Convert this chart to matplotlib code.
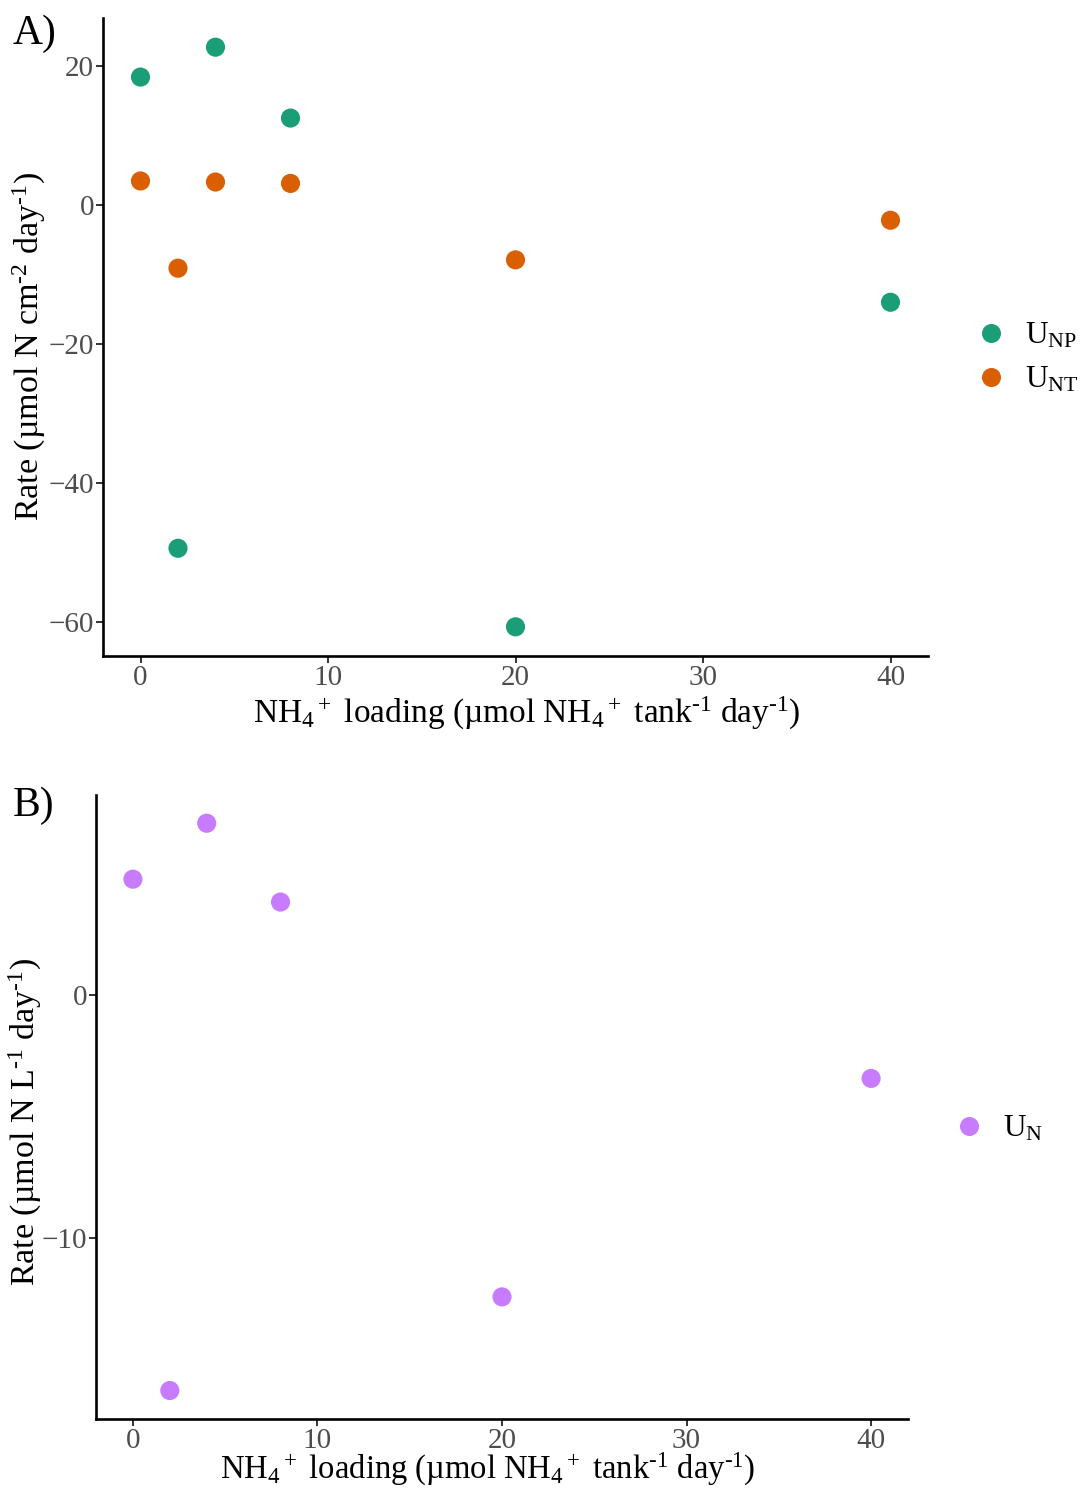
import matplotlib
matplotlib.use("Agg")
import matplotlib.pyplot as plt
from matplotlib.lines import Line2D

plt.rcParams['font.family'] = ['Liberation Serif', 'DejaVu Serif']
plt.rcParams['mathtext.fontset'] = 'custom'
plt.rcParams['mathtext.rm'] = 'Liberation Serif'
plt.rcParams['mathtext.it'] = 'Liberation Serif'
plt.rcParams['mathtext.bf'] = 'Liberation Serif'
plt.rcParams['mathtext.default'] = 'regular'

# ---- data ----
loading = [0, 2, 4, 8, 20, 40]
u_np = [18.4, -49.4, 22.7, 12.5, -60.7, -14.0]
u_nt = [3.45, -9.1, 3.3, 3.1, -7.9, -2.2]
u_n = [4.75, -16.27, 7.05, 3.81, -12.42, -3.44]

xticks = [0, 10, 20, 30, 40]
yticks_a = [-60, -40, -20, 0, 20]
yticks_b = [-10, 0]

col_np = '#1B9E77'
col_nt = '#D95F02'
col_n = '#C77CFF'

W, H = 1082, 1492
fig = plt.figure(figsize=(W / 100, H / 100), dpi=100)

def frac(l, t, r, b):
    return [l / W, 1 - b / H, (r - l) / W, (b - t) / H]

axA = fig.add_axes(frac(103, 18, 928, 656))
axB = fig.add_axes(frac(96, 795, 908, 1419))

xlabel = r"NH$_4{}^+$ loading (µmol NH$_4{}^+$ tank$^{\text{-}1}$ day$^{\text{-}1}$)"

def style(ax):
    for s in ['top', 'right']:
        ax.spines[s].set_visible(False)
    for s in ['left', 'bottom']:
        ax.spines[s].set_linewidth(1.9)
        ax.spines[s].set_color('black')
    ax.tick_params(axis='both', length=5, width=1.4, color='#333333',
                   labelcolor='#4D4D4D', labelsize=21, pad=1.5)
    ax.set_xticks(xticks)
    ax.set_xlim(-2, 42)

MS = 190
axA.scatter(loading, u_np, s=MS, color=col_np, edgecolors='none', zorder=3)
axA.scatter(loading, u_nt, s=MS, color=col_nt, edgecolors='none', zorder=3)
style(axA)
axA.set_yticks(yticks_a)
axA.set_yticklabels(['\u221260', '\u221240', '\u221220', '0', '20'])
axA.set_ylim(-64.9, 26.9)
axA.set_xlabel(xlabel, fontsize=24, labelpad=2.5)
axA.xaxis.label.set_x((527 - 103) / 825)
axA.set_ylabel(r"Rate (µmol N cm$^{\text{-}2}$ day$^{\text{-}1}$)", fontsize=24.5)
axA.yaxis.set_label_coords(-0.0665, (656 - 347) / (656 - 18))

axB.scatter(loading, u_n, s=MS, color=col_n, edgecolors='none', zorder=3)
style(axB)
axB.set_yticks(yticks_b)
axB.set_yticklabels(['\u221210', '0'])
axB.set_ylim(-17.44, 8.21)
axB.set_xlabel(xlabel, fontsize=23.5, labelpad=-2)
axB.xaxis.label.set_x((488 - 96) / 812)
axB.set_ylabel(r"Rate (µmol N L$^{\text{-}1}$ day$^{\text{-}1}$)", fontsize=24.5)
axB.yaxis.set_label_coords(-0.0635, (1419 - 1122) / (1419 - 795))

def mk(c):
    return Line2D([], [], linestyle='none', marker='o', markersize=13.7,
                  markerfacecolor=c, markeredgecolor='none')

legA = fig.legend([mk(col_np), mk(col_nt)], [r"U$_{NP}$", r"U$_{NT}$"],
                  loc='center left', bbox_to_anchor=(975 / W, 1 - 358 / H),
                  frameon=False, fontsize=22.5, handlelength=1.0,
                  handletextpad=0.6, labelspacing=0.45, borderpad=0,
                  borderaxespad=0)
legB = fig.legend([mk(col_n)], [r"U$_{N}$"],
                  loc='center left', bbox_to_anchor=(953 / W, 1 - 1129 / H),
                  frameon=False, fontsize=22.5, handlelength=1.0,
                  handletextpad=0.6, borderpad=0, borderaxespad=0)

fig.text(13 / W, 1 - 34 / H, "A)", fontsize=30, va='center', ha='left')
fig.text(13 / W, 1 - 806 / H, "B)", fontsize=30, va='center', ha='left')

fig.savefig("out.png", dpi=100)
